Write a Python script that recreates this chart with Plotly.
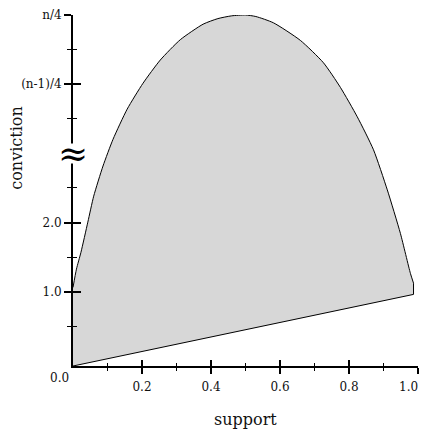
import plotly.graph_objects as go

# ---- data ----
support_lower = [0.0, 0.987, 0.987]
conviction_lower = [-0.074, 0.961, 1.123]

support_upper = [0.0, 0.010, 0.023, 0.043, 0.060, 0.087, 0.116, 0.157, 0.203, 0.253,
                 0.311, 0.377, 0.420, 0.460, 0.500, 0.530, 0.581, 0.659, 0.726, 0.775,
                 0.824, 0.871, 0.911, 0.949, 0.978, 0.987]
conviction_upper = [1.062, 1.326, 1.569, 2.006, 2.381, 2.817, 3.203, 3.639, 4.014, 4.349,
                    4.643, 4.867, 4.948, 4.988, 5.000, 4.978, 4.887, 4.633, 4.309, 3.954,
                    3.528, 3.051, 2.472, 1.843, 1.265, 1.123]

x_tickvals = [0.2, 0.4, 0.6, 0.8, 1.0]
x_ticktext = ["0.2", "0.4", "0.6", "0.8", "1.0"]
x_minor = [0.1, 0.3, 0.5, 0.7, 0.9]

y_tickvals = [1, 2, 4, 5]
y_ticktext = ["1.0", "2.0", "(n-1)/4", "n/4"]
y_minor = [0.5, 1.5, 2.5, 3.5, 4.5]
y_break = 3.0
y_range = [-0.074, 5.0]

FONT = "DejaVu Serif"
TXT = "#111111"

fig = go.Figure()
fig.add_trace(go.Scatter(
    x=support_lower, y=conviction_lower, mode="lines",
    line=dict(color="black", width=1), hoverinfo="skip", showlegend=False))
fig.add_trace(go.Scatter(
    x=support_upper, y=conviction_upper, mode="lines", fill="tonexty",
    fillcolor="#d7d7d7", line=dict(color="black", width=1, shape="spline", smoothing=0.6),
    hoverinfo="skip", showlegend=False))
# dummy trace for overlay axes (inside half of crossing ticks)
fig.add_trace(go.Scatter(x=[0], y=[0], xaxis="x2", yaxis="y2", mode="markers",
                         marker=dict(opacity=0), hoverinfo="skip", showlegend=False))

common = dict(showgrid=False, zeroline=False, tickcolor="black", automargin=False)

# the last x label sits at the visible edge: draw it as a right-anchored annotation
x_axis_text = x_ticktext[:-1] + [""]

annotations = [
    # axis break: white gap + wavy symbol
    dict(text=" ", x=0, y=y_break, xref="x", yref="y", showarrow=False,
         xanchor="center", yanchor="middle", font=dict(size=10),
         bgcolor="white", borderpad=0, width=8, height=19),
    dict(text="≈", x=0, y=y_break, xref="x", yref="y", showarrow=False,
         xanchor="center", yanchor="middle",
         font=dict(size=36, color="black")),
    dict(text=x_ticktext[-1], x=x_tickvals[-1], y=0, xref="x", yref="paper",
         showarrow=False, xanchor="right", yanchor="top", xshift=2, yshift=-12,
         font=dict(size=12, color=TXT)),
    dict(text="0.0", x=-0.038, y=-0.034, xref="paper", yref="paper",
         showarrow=False, xanchor="center", yanchor="middle",
         font=dict(size=12, color=TXT)),
    dict(text="conviction", x=-0.166, y=0.621, xref="paper", yref="paper",
         showarrow=False, textangle=-90, xanchor="center", yanchor="middle",
         font=dict(size=16, color=TXT)),
    dict(text="support", x=0.5, y=-0.151, xref="paper", yref="paper",
         showarrow=False, xanchor="center", yanchor="middle",
         font=dict(size=16, color=TXT)),
]

# page body has an 8px default margin: figure is drawn from (8, 8)
fig.update_layout(
    width=419, height=422,
    margin=dict(l=65, r=9, t=7, b=64, autoexpand=False),
    plot_bgcolor="white", paper_bgcolor="white",
    font=dict(family=FONT, size=12, color=TXT),
    xaxis=dict(range=[0, 1], showline=True, linecolor="black", linewidth=2,
               ticks="outside", ticklen=6, tickwidth=2,
               tickvals=x_tickvals, ticktext=x_axis_text,
               ticklabelstandoff=3,
               minor=dict(tickvals=x_minor, ticks="outside", ticklen=3,
                          tickwidth=1, tickcolor="black"),
               **common),
    yaxis=dict(range=y_range, showline=True, linecolor="black", linewidth=2,
               ticks="outside", ticklen=7, tickwidth=2,
               tickvals=y_tickvals, ticktext=y_ticktext, ticklabeloverflow="allow",
               minor=dict(tickvals=y_minor, ticks="outside", ticklen=4,
                          tickwidth=1, tickcolor="black"),
               **common),
    xaxis2=dict(overlaying="x", matches="x", anchor="y2", side="bottom",
                range=[0, 1], showline=False, showticklabels=False,
                ticks="inside", ticklen=6, tickwidth=2, tickvals=x_tickvals,
                minor=dict(tickvals=x_minor, ticks="inside", ticklen=3,
                           tickwidth=1, tickcolor="black"),
                **common),
    yaxis2=dict(overlaying="y", matches="y", anchor="x2", side="left",
                range=y_range, showline=False, showticklabels=False,
                ticks="inside", ticklen=8, tickwidth=2, tickvals=y_tickvals,
                minor=dict(tickvals=y_minor, ticks="inside", ticklen=4,
                           tickwidth=1, tickcolor="black"),
                **common),
    annotations=annotations,
)

fig.write_html("out.html")
